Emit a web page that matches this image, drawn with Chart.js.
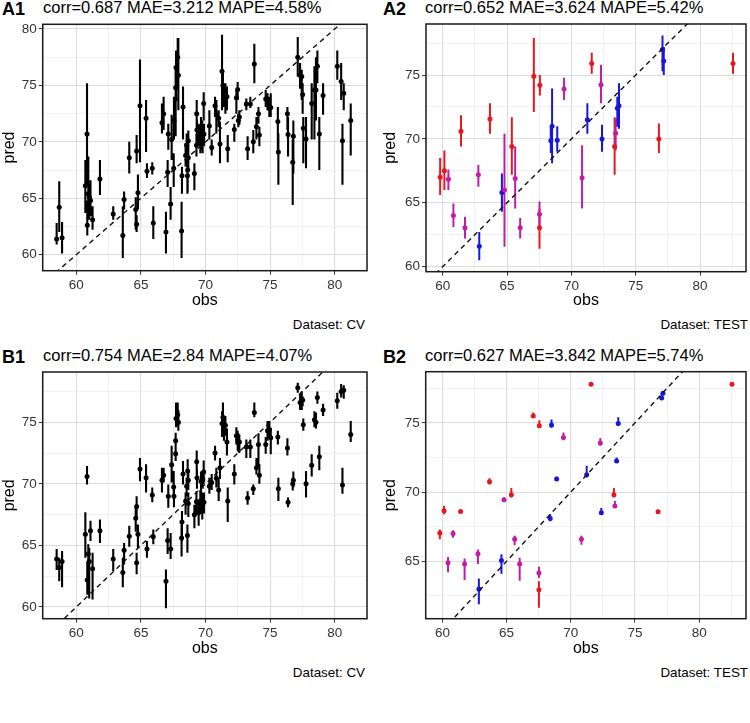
<!DOCTYPE html>
<html lang="en">
<head>
  <meta charset="UTF-8" />
  <title>obs vs pred</title>
  <script src="https://cdn.jsdelivr.net/npm/chart.js"></script>
  <style>
    body {
      margin: 0;
      padding: 0;
      background: #fff;
      font-family: 'Liberation Sans', Arial, sans-serif;
    }
    .panel {
      position: absolute;
      width: 375px;
      height: 348px;
    }
    .panel canvas {
      position: absolute;
      left: 0;
      top: 0;
    }
    .tag {
      position: absolute;
      top: 0;
      font-weight: bold;
      font-size: 18px;
      line-height: 1;
      color: #000;
    }
    .ttl {
      position: absolute;
      top: -1px;
      font-size: 16.5px;
      line-height: 1;
      color: #000;
      white-space: nowrap;
    }
    .cap {
      position: absolute;
      top: 318px;
      font-size: 13.4px;
      line-height: 1;
      color: #000;
      white-space: nowrap;
    }
  </style>
</head>
<body>

  <div class="panel" style="left:0;top:0">
    <div class="tag" style="left:2px">A1</div>
    <div class="ttl" style="left:43px">corr=0.687 MAE=3.212 MAPE=4.58%</div>
    <canvas id="chartA1" width="375" height="312"></canvas>
    <div class="cap" style="right:10px">Dataset: CV</div>
  </div>

  <div class="panel" style="left:375px;top:0">
    <div class="tag" style="left:8px">A2</div>
    <div class="ttl" style="left:50px">corr=0.652 MAE=3.624 MAPE=5.42%</div>
    <canvas id="chartA2" width="375" height="312"></canvas>
    <div class="cap" style="right:2px">Dataset: TEST</div>
  </div>

  <div class="panel" style="left:0;top:348px">
    <div class="tag" style="left:2px">B1</div>
    <div class="ttl" style="left:43px">corr=0.754 MAE=2.84 MAPE=4.07%</div>
    <canvas id="chartB1" width="375" height="312"></canvas>
    <div class="cap" style="right:10px">Dataset: CV</div>
  </div>

  <div class="panel" style="left:375px;top:348px">
    <div class="tag" style="left:8px">B2</div>
    <div class="ttl" style="left:50px">corr=0.627 MAE=3.842 MAPE=5.74%</div>
    <canvas id="chartB2" width="375" height="312"></canvas>
    <div class="cap" style="right:2px">Dataset: TEST</div>
  </div>

  <script>
    // tick labels
    const xTickLabels = [60, 65, 70, 75, 80];
    const yTickLabels = [60, 65, 70, 75, 80];

    // identity line (obs == pred)
    const identity = [50, 90];

    // CV set: observed values (shared by A1 and B1)
    const cvObs = [
      58.48, 58.68, 58.9, 60.7, 60.83, 60.85, 60.93, 61.0, 61.1, 61.26,
      61.83, 62.86, 63.6, 63.7, 64.1, 64.6, 64.67, 64.67, 64.77, 64.93,
      65.4, 65.47, 65.88, 65.96, 66.63, 66.76, 66.94, 67.07, 67.12, 67.3,
      67.38, 67.54, 67.56, 67.69, 67.69, 67.72, 67.85, 67.9, 68.26, 68.18,
      68.15, 68.46, 68.54, 68.6, 68.62, 68.67, 68.67, 69.14, 69.3, 69.32,
      69.34, 69.47, 69.6, 69.65, 69.75, 69.78, 69.86, 69.88, 70.3, 70.48,
      70.74, 70.84, 71.02, 71.12, 71.28, 71.35, 71.43, 71.54, 71.66, 71.72,
      72.23, 72.39, 72.49, 72.54, 72.62, 73.16, 73.26, 73.47, 73.78, 73.7,
      73.94, 74.1, 74.17, 74.66, 74.8, 74.94, 75.05, 75.6, 75.64, 76.34,
      76.39, 76.75, 76.8, 77.14, 77.32, 77.45, 77.52, 77.57, 77.78, 78.22,
      78.43, 78.55, 78.66, 78.81, 79.1, 80.2, 80.5, 80.6, 80.7, 81.24
    ];

    // A1: predictions and interval
    const cvPredA = [
      61.4, 64.2, 61.5, 66.1, 70.7, 62.6, 65.4, 65.1, 64.8, 63.1,
      66.7, 63.6, 61.7, 64.9, 68.6, 64.0, 69.2, 62.7, 65.5, 73.2,
      72.1, 67.4, 67.65, 62.8, 71.7, 72.5, 62.0, 67.3, 70.7, 64.5,
      70.2, 67.65, 71.9, 73.8, 74.8, 76.6, 77.5, 75.9, 73.1, 67.0,
      62.1, 68.8, 69.7, 67.0, 67.5, 70.1, 68.6, 67.2, 69.7, 72.5,
      71.05, 70.5, 70.0, 71.3, 70.7, 70.2, 73.4, 70.7, 71.4, 69.5,
      73.2, 72.4, 72.1, 69.8, 76.25, 75.0, 74.3, 74.1, 74.0, 69.4,
      71.1, 73.9, 74.65, 71.9, 72.2, 73.35, 69.4, 73.35, 76.9, 70.0,
      71.35, 72.5, 70.6, 73.8, 73.7, 72.95, 73.05, 71.8, 69.1, 72.5,
      70.65, 68.2, 70.5, 77.5, 75.9, 75.8, 74.2, 71.2, 70.25, 73.4,
      74.6, 74.6, 76.7, 70.7, 74.1, 76.7, 75.35, 70.1, 74.3, 71.9
    ];
    const cvHiA = [
      62.8, 66.5, 62.9, 68.4, 75.2, 64.8, 68.7, 66.3, 66.6, 64.3,
      68.4, 64.3, 64.3, 65.6, 70.0, 65.1, 70.6, 63.5, 67.1, 77.3,
      73.7, 68.1, 68.2, 64.3, 73.4, 74.0, 63.8, 68.4, 71.6, 66.0,
      72.4, 69.0, 74.0, 74.9, 76.7, 78.1, 79.2, 79.2, 74.9, 67.8,
      64.7, 69.9, 70.75, 68.1, 68.4, 71.0, 69.6, 68.1, 70.75, 73.7,
      71.9, 71.6, 71.0, 72.2, 71.9, 71.3, 74.4, 71.6, 72.8, 70.2,
      74.0, 73.7, 72.8, 71.8, 79.5, 76.2, 75.2, 75.2, 74.9, 70.6,
      71.6, 74.6, 75.3, 72.5, 72.8, 73.85, 70.5, 74.0, 78.7, 71.05,
      72.2, 73.1, 71.35, 74.6, 74.3, 74.0, 74.3, 73.1, 70.75, 73.1,
      72.2, 70.2, 71.9, 79.3, 77.0, 76.4, 75.2, 72.2, 72.2, 75.2,
      76.7, 77.5, 78.1, 72.2, 75.2, 78.1, 77.0, 71.6, 75.2, 73.4
    ];
    const cvLoA = [
      60.9, 62.0, 60.1, 63.7, 66.0, 61.7, 63.7, 63.1, 63.4, 62.2,
      65.3, 63.1, 59.7, 64.0, 67.2, 62.2, 68.1, 62.0, 64.0, 68.2,
      69.1, 66.8, 67.1, 61.4, 70.75, 71.05, 60.1, 66.0, 69.3, 63.1,
      68.4, 66.0, 70.2, 70.5, 72.8, 73.7, 74.6, 72.8, 70.2, 65.4,
      59.7, 67.8, 68.7, 65.4, 65.6, 69.0, 67.5, 65.7, 68.7, 71.05,
      69.9, 69.6, 69.0, 69.9, 69.3, 69.0, 71.9, 69.6, 70.2, 68.8,
      72.2, 70.75, 71.3, 68.1, 72.8, 73.7, 73.1, 72.5, 72.8, 68.2,
      70.0, 72.5, 73.7, 71.3, 71.5, 72.8, 68.4, 73.0, 75.2, 69.0,
      70.2, 71.6, 69.6, 73.1, 72.8, 72.2, 72.2, 69.3, 66.2, 71.05,
      68.7, 64.4, 67.2, 75.8, 74.7, 73.7, 72.5, 68.1, 67.65, 70.2,
      70.2, 71.9, 75.2, 67.5, 72.4, 75.5, 73.7, 66.2, 72.8, 68.8
    ];

    // B1: predictions and interval
    const cvPredB = [
      63.9, 63.2, 63.7, 65.9, 70.6, 62.2, 64.3, 63.7, 66.2, 63.1,
      66.2, 63.9, 62.8, 64.6, 65.75, 67.2, 68.15, 63.6, 65.9, 71.2,
      70.5, 64.7, 69.1, 65.7, 70.3, 70.7, 62.1, 65.4, 69.0, 64.7,
      71.55, 69.75, 69.0, 72.45, 73.5, 75.3, 75.6, 75.0, 70.8, 66.9,
      65.6, 68.6, 69.8, 65.8, 71.05, 70.3, 68.4, 67.5, 68.55, 71.8,
      70.5, 67.65, 68.6, 70.2, 68.5, 70.35, 70.96, 68.5, 69.8, 70.1,
      72.5, 70.45, 69.5, 71.3, 74.9, 75.4, 74.4, 74.75, 73.4, 68.6,
      70.8, 73.9, 73.55, 73.4, 73.4, 73.0, 68.85, 73.0, 75.8, 69.6,
      71.3, 73.2, 70.7, 73.2, 74.3, 74.4, 73.75, 73.8, 69.6, 72.9,
      68.5, 70.0, 70.3, 77.8, 76.6, 76.8, 76.8, 74.8, 70.0, 71.5,
      75.2, 75.0, 77.0, 72.2, 76.0, 76.75, 77.5, 69.9, 77.6, 74.0
    ];
    const cvHiB = [
      64.7, 64.0, 64.55, 67.7, 71.45, 63.7, 65.1, 64.8, 67.0, 64.4,
      67.1, 64.7, 64.0, 65.2, 66.6, 68.1, 69.0, 64.4, 66.7, 72.1,
      71.6, 65.35, 69.7, 66.3, 71.3, 71.3, 63.05, 66.4, 69.95, 66.0,
      73.1, 71.05, 69.9, 73.2, 74.15, 76.6, 76.6, 76.0, 71.85, 67.8,
      66.7, 69.3, 70.5, 66.7, 72.0, 71.0, 69.3, 68.3, 69.4, 72.7,
      71.2, 68.6, 69.5, 71.0, 69.3, 71.1, 71.9, 69.3, 70.5, 70.8,
      73.1, 71.3, 70.5, 72.1, 75.9, 76.6, 75.3, 75.5, 74.5, 69.7,
      71.6, 74.6, 74.3, 74.1, 74.0, 73.6, 69.4, 73.6, 76.6, 69.95,
      72.1, 74.1, 71.6, 73.8, 75.1, 75.1, 74.55, 74.3, 70.5, 73.7,
      68.9, 70.5, 71.0, 78.2, 77.3, 77.5, 77.1, 75.3, 71.05, 72.4,
      75.9, 75.8, 77.5, 73.1, 76.5, 77.4, 78.1, 71.3, 78.0, 75.1
    ];
    const cvLoB = [
      63.0, 62.1, 61.6, 64.0, 69.95, 61.0, 63.2, 60.7, 65.35, 60.6,
      65.2, 62.9, 61.6, 63.45, 64.9, 66.1, 67.25, 62.65, 64.8, 70.2,
      69.3, 64.0, 68.5, 65.1, 69.3, 70.1, 59.9, 64.3, 68.05, 63.9,
      70.1, 68.9, 68.1, 71.85, 72.4, 74.6, 74.7, 74.3, 69.95, 65.35,
      64.1, 67.5, 69.0, 64.4, 70.2, 69.5, 67.3, 66.4, 67.6, 70.75,
      69.6, 66.6, 67.6, 69.3, 67.1, 69.6, 70.0, 67.6, 69.2, 69.5,
      71.9, 69.7, 68.6, 70.4, 73.8, 74.2, 73.5, 73.9, 72.3, 66.9,
      69.95, 73.2, 72.7, 72.6, 72.5, 72.1, 68.3, 72.1, 75.4, 69.1,
      70.75, 71.3, 70.0, 72.45, 73.5, 73.75, 72.4, 73.2, 68.6, 72.3,
      68.1, 69.45, 69.7, 77.4, 76.0, 76.0, 76.3, 74.3, 68.9, 70.6,
      74.6, 74.5, 76.5, 71.1, 75.5, 76.1, 77.0, 69.2, 76.9, 73.4
    ];

    // TEST set: observed values and group (shared by A2 and B2)
    const testObs = [
      59.8, 60.13, 60.44, 60.83, 61.42, 61.73, 62.77, 62.84, 63.67, 64.6,
      64.8, 65.37, 65.63, 66.02, 67.08, 67.55, 67.52, 67.52, 68.4, 68.5,
      68.9, 69.43, 70.83, 71.24, 71.58, 72.3, 72.38, 73.36, 73.44, 73.57,
      73.7, 76.8, 77.08, 77.18, 82.56
    ];
    const testGroup = [
      'G1', 'G1', 'G2', 'G2', 'G1', 'G2', 'G2', 'G3', 'G1', 'G3',
      'G2', 'G1', 'G2', 'G2', 'G1', 'G1', 'G2', 'G1', 'G3', 'G3',
      'G3', 'G2', 'G2', 'G3', 'G1', 'G2', 'G3', 'G1', 'G2', 'G3',
      'G3', 'G1', 'G3', 'G3', 'G1'
    ];

    // A2: predictions and interval
    const testPredA = [
      67.0, 67.5, 66.85, 64.0, 70.6, 63.05, 67.2, 61.6, 71.55, 65.8,
      66.0, 69.4, 66.9, 63.05, 74.9, 74.2, 64.1, 63.05, 69.85, 71.0,
      69.9, 73.9, 66.95, 71.5, 75.9, 74.25, 70.0, 69.4, 70.45, 72.4,
      72.6, 70.0, 77.0, 76.1, 75.9
    ];
    const testHiA = [
      68.5, 69.1, 67.6, 64.95, 71.85, 63.9, 67.95, 62.7, 72.8, 67.3,
      70.4, 71.7, 69.4, 63.8, 77.9, 75.0, 65.1, 64.55, 70.9, 73.95,
      71.0, 74.8, 69.5, 72.8, 76.75, 75.8, 71.1, 71.7, 71.6, 73.3,
      74.35, 71.2, 78.1, 77.2, 76.75
    ];
    const testLoA = [
      65.6, 66.0, 66.0, 63.1, 69.4, 62.2, 66.25, 60.5, 70.4, 64.3,
      61.55, 67.2, 64.55, 62.2, 72.1, 73.4, 63.1, 61.4, 68.9, 68.1,
      69.0, 73.05, 64.55, 70.4, 75.1, 72.8, 69.0, 67.2, 69.1, 70.95,
      70.8, 68.9, 75.3, 75.0, 75.1
    ];

    // B2: predictions and interval
    const testPredB = [
      67.05, 68.65, 64.9, 67.0, 68.6, 64.8, 65.55, 63.0, 70.75, 65.05,
      69.45, 69.8, 66.6, 64.8, 75.5, 74.8, 64.15, 62.95, 68.1, 74.85,
      70.95, 73.95, 66.6, 71.25, 77.8, 73.55, 68.5, 69.8, 69.0, 72.25,
      74.95, 68.57, 76.8, 77.15, 77.8
    ];
    const testHiB = [
      67.3, 69.0, 65.3, 67.25, 68.7, 65.2, 65.85, 63.75, 71.0, 65.5,
      69.6, 70.3, 66.85, 65.25, 75.75, 75.2, 64.6, 63.55, 68.4, 75.25,
      71.1, 74.3, 66.85, 71.9, 77.9, 73.9, 68.85, 70.3, 69.35, 72.5,
      75.4, 68.65, 77.1, 77.3, 77.9
    ];
    const testLoB = [
      66.6, 68.4, 64.2, 66.7, 68.5, 63.65, 64.8, 61.9, 70.55, 64.1,
      69.3, 69.6, 66.15, 63.6, 75.35, 74.66, 63.8, 61.65, 67.9, 74.65,
      70.9, 73.75, 66.2, 71.05, 77.7, 73.35, 68.35, 69.6, 68.9, 72.1,
      74.8, 68.5, 76.7, 77.0, 77.7
    ];

    const groupColors = { G1: '#e8161e', G2: '#c21ca6', G3: '#1717d9' };

    // draws the vertical intervals under the points
    const errorBars = {
      id: 'errorBars',
      beforeDatasetsDraw(chart) {
        const { ctx, chartArea, scales: { x, y } } = chart;
        ctx.save();
        ctx.beginPath();
        ctx.rect(chartArea.left, chartArea.top, chartArea.width, chartArea.height);
        ctx.clip();
        chart.data.datasets.forEach(ds => {
          if (!ds.barWidth) return;
          ctx.strokeStyle = ds.backgroundColor;
          ctx.lineWidth = ds.barWidth;
          ctx.beginPath();
          ds.data.forEach(p => {
            const px = x.getPixelForValue(p.x);
            ctx.moveTo(px, y.getPixelForValue(p.lo));
            ctx.lineTo(px, y.getPixelForValue(p.hi));
          });
          ctx.stroke();
        });
        ctx.restore();
      }
    };

    // panel frame
    const frame = {
      id: 'frame',
      afterDraw(chart) {
        const { ctx, chartArea: a } = chart;
        ctx.save();
        ctx.strokeStyle = '#1a1a1a';
        ctx.lineWidth = 1.5;
        ctx.strokeRect(a.left, a.top, a.width, a.height);
        ctx.restore();
      }
    };

    const isMajor = (v, list) => list.some(t => Math.abs(t - v) < 1e-6);

    function axis(range, labels, title, fit) {
      return {
        type: 'linear',
        min: range[0],
        max: range[1],
        ticks: {
          stepSize: 2.5,
          includeBounds: false,
          autoSkip: false,
          maxRotation: 0,
          padding: 2,
          color: '#333',
          font: { family: 'Liberation Sans', size: 13.5 },
          callback: v => isMajor(v, labels) ? v : ''
        },
        grid: {
          color: ctx => isMajor(ctx.tick.value, labels) ? '#dcdcdc' : '#eeeeee',
          lineWidth: ctx => isMajor(ctx.tick.value, labels) ? 1.1 : 0.8,
          tickColor: ctx => isMajor(ctx.tick.value, labels) ? '#333' : 'rgba(0,0,0,0)',
          tickLength: 4,
          tickWidth: 1
        },
        border: { display: false },
        title: {
          display: true,
          text: title,
          color: '#000',
          font: { family: 'Liberation Sans', size: 16 },
          padding: { top: 0, bottom: 2 }
        },
        afterFit: fit
      };
    }

    function makePanel(id, obs, pred, lo, hi, groups, box, xRange, yRange, style) {
      const H = 312;
      const points = obs.map((o, i) => ({ x: o, y: pred[i], lo: lo[i], hi: hi[i], g: groups ? groups[i] : null }));
      const sets = groups
        ? Object.keys(groupColors).map(g => ({
            type: 'scatter',
            data: points.filter(p => p.g === g),
            backgroundColor: groupColors[g],
            pointRadius: style.r,
            pointBorderWidth: 0,
            barWidth: style.w
          }))
        : [{
            type: 'scatter',
            data: points,
            backgroundColor: '#000',
            pointRadius: style.r,
            pointBorderWidth: 0,
            barWidth: style.w
          }];

      sets.unshift({
        type: 'line',
        data: identity.map(v => ({ x: v, y: v })),
        borderColor: '#111',
        borderWidth: 1.4,
        borderDash: [5, 4],
        pointRadius: 0,
        fill: false
      });

      new Chart(document.getElementById(id), {
        data: { datasets: sets },
        options: {
          responsive: false,
          animation: false,
          layout: { padding: { left: box.pl, top: box.top, right: 375 - box.right, bottom: 0 } },
          plugins: { legend: { display: false }, tooltip: { enabled: false } },
          scales: {
            x: axis(xRange, xTickLabels, 'obs', s => { s.height = H - box.bottom; }),
            y: axis(yRange, yTickLabels, 'pred', s => { s.width = box.left - box.pl; })
          }
        },
        plugins: [errorBars, frame]
      });
    }

    makePanel('chartA1', cvObs, cvPredA, cvLoA, cvHiA, null,
      { pl: 0, left: 42.7, right: 367, top: 24.3, bottom: 270.7 },
      [57.4, 82.5], [58.58, 80.42], { r: 2.5, w: 2.1 });

    makePanel('chartA2', testObs, testPredA, testLoA, testHiA, testGroup,
      { pl: 6, left: 51, right: 371.7, top: 24, bottom: 271.7 },
      [58.7, 83.57], [59.6, 79.0], { r: 2.5, w: 2.0 });

    makePanel('chartB1', cvObs, cvPredB, cvLoB, cvHiB, null,
      { pl: 0, left: 42.7, right: 367, top: 24, bottom: 270.7 },
      [57.4, 82.5], [59.05, 79.08], { r: 2.5, w: 2.1 });

    makePanel('chartB2', testObs, testPredB, testLoB, testHiB, testGroup,
      { pl: 6, left: 50.7, right: 372.5, top: 23.7, bottom: 270.7 },
      [58.7, 83.65], [60.85, 78.7], { r: 2.5, w: 2.0 });
  </script>
</body>
</html>
